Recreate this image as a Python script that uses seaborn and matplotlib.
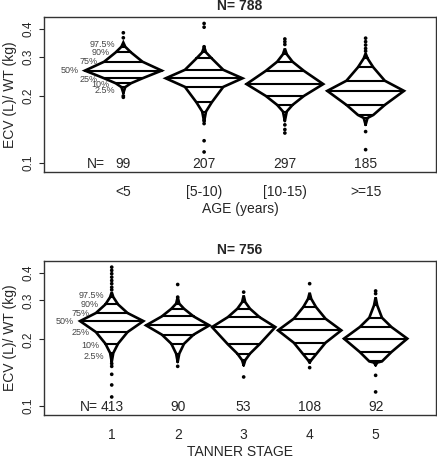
import matplotlib
matplotlib.use("Agg")
import matplotlib.pyplot as plt
import matplotlib.ticker as mticker
import numpy as np
import pandas as pd
import seaborn as sns

# percentile levels of each knot: lower tip, 2.5, 10, 25, 50, 75, 90, 97.5, upper tip
PCT_LEVELS = [0.0, 0.025, 0.10, 0.25, 0.50, 0.75, 0.90, 0.975, 1.0]
PCT_LABELS = ["2.5%", "10%", "25%", "50%", "75%", "90%", "97.5%"]

AGE_GROUPS = ["<5", "[5-10)", "[10-15)", ">=15"]
AGE_N = [99, 207, 297, 185]
AGE_Q = [
    [0.206, 0.219, 0.228, 0.240, 0.260, 0.285, 0.314, 0.333, 0.348],
    [0.153, 0.170, 0.187, 0.2195, 0.240, 0.262, 0.295, 0.314, 0.333],
    [0.154, 0.170, 0.182, 0.200, 0.226, 0.259, 0.285, 0.308, 0.327],
    [0.148, 0.159, 0.164, 0.182, 0.2106, 0.234, 0.269, 0.295, 0.311],
]
AGE_OUT = [
    [0.385, 0.3655, 0.200, 0.197],
    [0.424, 0.408, 0.333, 0.155, 0.150, 0.1255, 0.1117],
    [0.361, 0.351, 0.341, 0.148, 0.141, 0.136],
    [0.364, 0.351, 0.339, 0.327, 0.318, 0.138, 0.1144],
]

TANNER_GROUPS = ["1", "2", "3", "4", "5"]
TANNER_N = [413, 90, 53, 108, 92]
TANNER_Q = [
    [0.158, 0.1735, 0.1912, 0.2158, 0.2419, 0.263, 0.2877, 0.3104, 0.327],
    [0.158, 0.1724, 0.191, 0.210, 0.2313, 0.254, 0.275, 0.290, 0.3104],
    [0.1526, 0.161, 0.1724, 0.190, 0.2273, 0.252, 0.275, 0.2946, 0.316],
    [0.157, 0.161, 0.171, 0.193, 0.2196, 0.248, 0.280, 0.305, 0.325],
    [0.1526, 0.157, 0.159, 0.1753, 0.2015, 0.2273, 0.2505, 0.285, 0.310],
]
TANNER_OUT = [
    [0.424, 0.410, 0.396, 0.382, 0.369, 0.357, 0.344, 0.335,
     0.1554, 0.151, 0.139, 0.1244, 0.1098],
    [0.354, 0.3104, 0.151],
    [0.327, 0.1352],
    [0.357, 0.149],
    [0.331, 0.322, 0.1375, 0.1157],
]

YTICKS = [0.1, 0.2, 0.3, 0.4]
LABEL_DY = [-2.5, -1.2, -0.6, 0, 0, 0, 1.5]  # small vertical nudges of the % labels (pt)

sns.set_style("white")
plt.rcParams["font.family"] = ["Liberation Sans", "DejaVu Sans"]


def bpplot(ax, groups, counts, quants, outs, title, xlabel, half, xlim):
    for i, (q, o) in enumerate(zip(quants, outs)):
        x0 = i + 1
        w = [half * min(p, 1 - p) / 0.5 for p in PCT_LEVELS]
        xs = [x0 + v for v in w] + [x0 - v for v in w[::-1]]
        ys = list(q) + list(q[::-1])
        ax.plot(xs, ys, color="black", lw=1.9, solid_joinstyle="miter", zorder=3)
        for k in range(1, 8):
            ax.plot([x0 - w[k], x0 + w[k]], [q[k], q[k]], color="black", lw=1.5, zorder=3)
        if i == 0:
            for k in range(1, 8):
                ax.annotate(PCT_LABELS[k - 1], (x0 - w[k], q[k]),
                            xytext=(-4.5, LABEL_DY[k - 1]),
                            textcoords="offset points", ha="right", va="center",
                            fontsize=6.5, color="#444444")
    pts = pd.DataFrame({
        "x": [i + 1 for i, o in enumerate(outs) for _ in o],
        "y": [v for o in outs for v in o],
    })
    sns.scatterplot(pts, x="x", y="y", color="black", s=7, edgecolor="none", ax=ax, zorder=4)

    tr = ax.get_xaxis_transform()
    for i, n in enumerate(counts):
        ax.text(i + 1, 0.004, str(n), transform=tr, ha="center", va="bottom", fontsize=10)
    ax.text(0.655, 0.004, "N=", transform=tr, ha="center", va="bottom", fontsize=10)

    ax.set_yscale("log")
    ax.set_ylim(0.091, 0.452)
    ax.set_xlim(*xlim)
    ax.yaxis.set_major_locator(mticker.FixedLocator(YTICKS))
    ax.yaxis.set_minor_locator(mticker.NullLocator())
    ax.set_yticklabels([str(t) for t in YTICKS], rotation=90, va="center", fontsize=8.5)
    ax.set_xticks(range(1, len(groups) + 1))
    ax.set_xticklabels(groups, fontsize=10)
    ax.tick_params(axis="x", length=0, pad=9.5)
    ax.tick_params(axis="y", left=True, length=3.5, width=0.8, pad=3, direction="out")
    ax.set_xlabel(xlabel, fontsize=10, labelpad=2)
    ax.set_ylabel("ECV (L)/ WT (kg)", fontsize=10, labelpad=4)
    ax.set_title(title, fontsize=10, fontweight="bold", pad=5)
    for s in ax.spines.values():
        s.set_color("#333333")
        s.set_linewidth(1.0)


fig = plt.figure(figsize=(4.37, 4.58), dpi=100)
ax1 = fig.add_axes([0.1, 0.6251, 0.898, 0.3371])
ax2 = fig.add_axes([0.1, 0.0939, 0.898, 0.3362])

bpplot(ax1, AGE_GROUPS, AGE_N, AGE_Q, AGE_OUT, "N= 788", "AGE (years)", 0.475, (0.014, 4.873))
bpplot(ax2, TANNER_GROUPS, TANNER_N, TANNER_Q, TANNER_OUT, "N= 756", "TANNER STAGE", 0.48,
       (-0.031, 5.917))

fig.savefig("out.png", dpi=100)
